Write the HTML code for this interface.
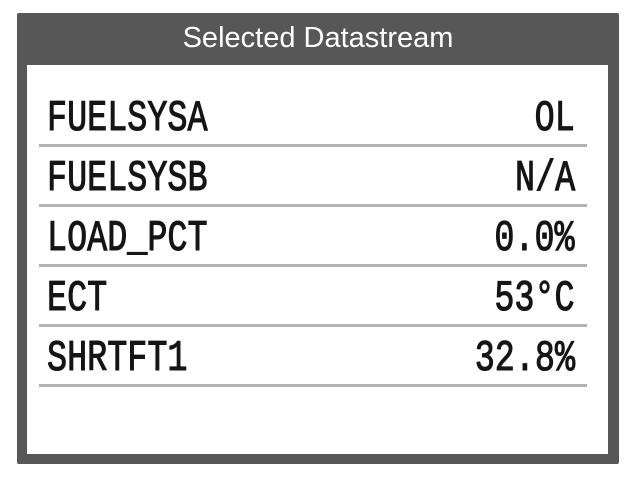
<!DOCTYPE html>
<html><head><style>
body{margin:0;width:642px;height:481px;background:#fff;position:relative;overflow:hidden;font-family:"Liberation Sans",sans-serif}
.frame{position:absolute;left:17px;top:13px;width:602px;height:451px;background:#575757;border-radius:2px}
.inner{position:absolute;left:27px;top:65px;width:581px;height:389px;background:#fff}
.title{position:absolute;left:17px;top:13px;width:602px;height:52px;line-height:50px;text-align:center;color:#fff;font-size:29px}
.line{position:absolute;left:39px;width:548px;height:3px;background:#b4b4b4}
.lab,.val{position:absolute;font-family:"Liberation Mono",monospace;font-weight:normal;-webkit-text-stroke:1.1px #151515;font-size:44px;color:#151515;line-height:40px;white-space:nowrap}
.lab{left:47px;transform:scaleX(0.76);transform-origin:left center}
.val{right:67px;transform:scaleX(0.76);transform-origin:right center}
</style></head><body>
<div class="frame"></div>
<div class="inner"></div>
<div class="title">Selected Datastream</div>
<div class="lab" style="top:99px">FUELSYSA</div><div class="val" style="top:99px">OL</div>
<div class="line" style="top:144px"></div>
<div class="lab" style="top:159px">FUELSYSB</div><div class="val" style="top:159px">N/A</div>
<div class="line" style="top:204px"></div>
<div class="lab" style="top:219px">LOAD_PCT</div><div class="val" style="top:219px">0.0%</div>
<div class="line" style="top:264px"></div>
<div class="lab" style="top:279px">ECT</div><div class="val" style="top:279px">53°C</div>
<div class="line" style="top:324px"></div>
<div class="lab" style="top:339px">SHRTFT1</div><div class="val" style="top:339px">32.8%</div>
<div class="line" style="top:384px"></div>
</body></html>
